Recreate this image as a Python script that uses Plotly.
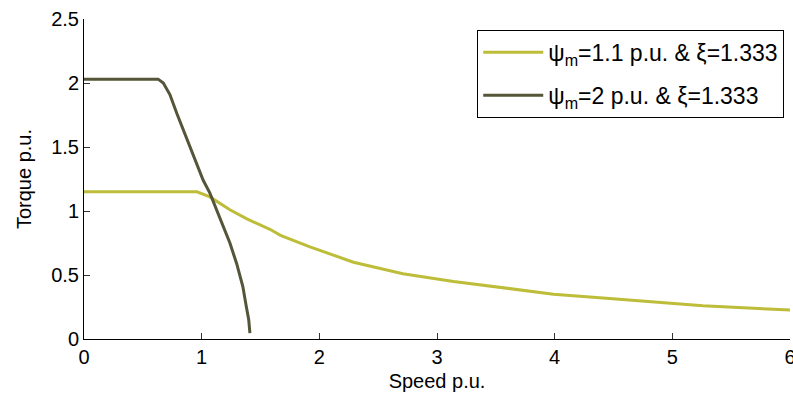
import plotly.graph_objects as go

# Curve 1: psi_m = 1.1 p.u.
speed1 = [0.0, 0.5, 0.96, 1.07, 1.24, 1.38, 1.58, 1.67, 1.92, 2.29, 2.71, 3.14, 3.56, 3.99, 4.41, 4.84, 5.26, 5.69, 6.0]
torque1 = [1.15, 1.15, 1.15, 1.11, 1.01, 0.94, 0.857, 0.81, 0.72, 0.60, 0.51, 0.45, 0.40, 0.35, 0.32, 0.29, 0.26, 0.24, 0.227]

# Curve 2: psi_m = 2 p.u.
speed2 = [0.0, 0.3, 0.63, 0.674, 0.73, 0.79, 0.845, 0.90, 0.957, 1.013, 1.07, 1.127, 1.18, 1.24, 1.297, 1.35, 1.38, 1.40, 1.41]
torque2 = [2.03, 2.03, 2.03, 2.0, 1.91, 1.76, 1.63, 1.50, 1.37, 1.24, 1.14, 1.01, 0.88, 0.75, 0.59, 0.41, 0.25, 0.15, 0.045]

names = ["ψ<sub>m</sub>=1.1 p.u. &amp; ξ=1.333", "ψ<sub>m</sub>=2 p.u. &amp; ξ=1.333"]
colors = ["#BDBD3A", "#55553A"]

x_ticks = [0, 1, 2, 3, 4, 5, 6]
y_ticks = [0, 0.5, 1, 1.5, 2, 2.5]
y_tick_labels = ["0", "0.5", "1", "1.5", "2", "2.5"]

font = dict(family="Liberation Sans, Arial, sans-serif", size=20, color="black")
legend_font = dict(family="Liberation Sans, Arial, sans-serif", size=23, color="black")

fig = go.Figure()
fig.add_trace(go.Scatter(x=speed1, y=torque1, mode="lines", name=names[0],
                         line=dict(color=colors[0], width=3), legendgroup="a"))
fig.add_trace(go.Scatter(x=speed2, y=torque2, mode="lines", name=names[1],
                         line=dict(color=colors[1], width=3), legendgroup="b"))

fig.update_layout(
    width=793, height=397,
    margin=dict(l=84, r=3, t=19, b=58, autoexpand=False),
    paper_bgcolor="white", plot_bgcolor="white",
    font=font,
    showlegend=True,
    legend=dict(x=0.557, y=0.966, xanchor="left", yanchor="top",
                bordercolor="black", borderwidth=1, bgcolor="white",
                itemwidth=60, tracegroupgap=10, font=legend_font),
    xaxis=dict(range=[0, 6], tickvals=x_ticks, ticks="inside", ticklen=6,
               tickcolor="#333", tickwidth=1, showline=True, linecolor="black", linewidth=1,
               showgrid=False, zeroline=False, ticklabeloverflow="allow", automargin=False,
               title=dict(text="Speed p.u.", font=font, standoff=6)),
    yaxis=dict(range=[0, 2.5], tickvals=y_ticks, ticktext=y_tick_labels,
               ticks="inside", ticklen=6, tickwidth=1, automargin=False,
               tickcolor="#333", showline=True, linecolor="black", linewidth=1,
               showgrid=False, zeroline=False,
               title=dict(text="Torque p.u.", font=font, standoff=14)),
)

fig.write_html("out.html")
